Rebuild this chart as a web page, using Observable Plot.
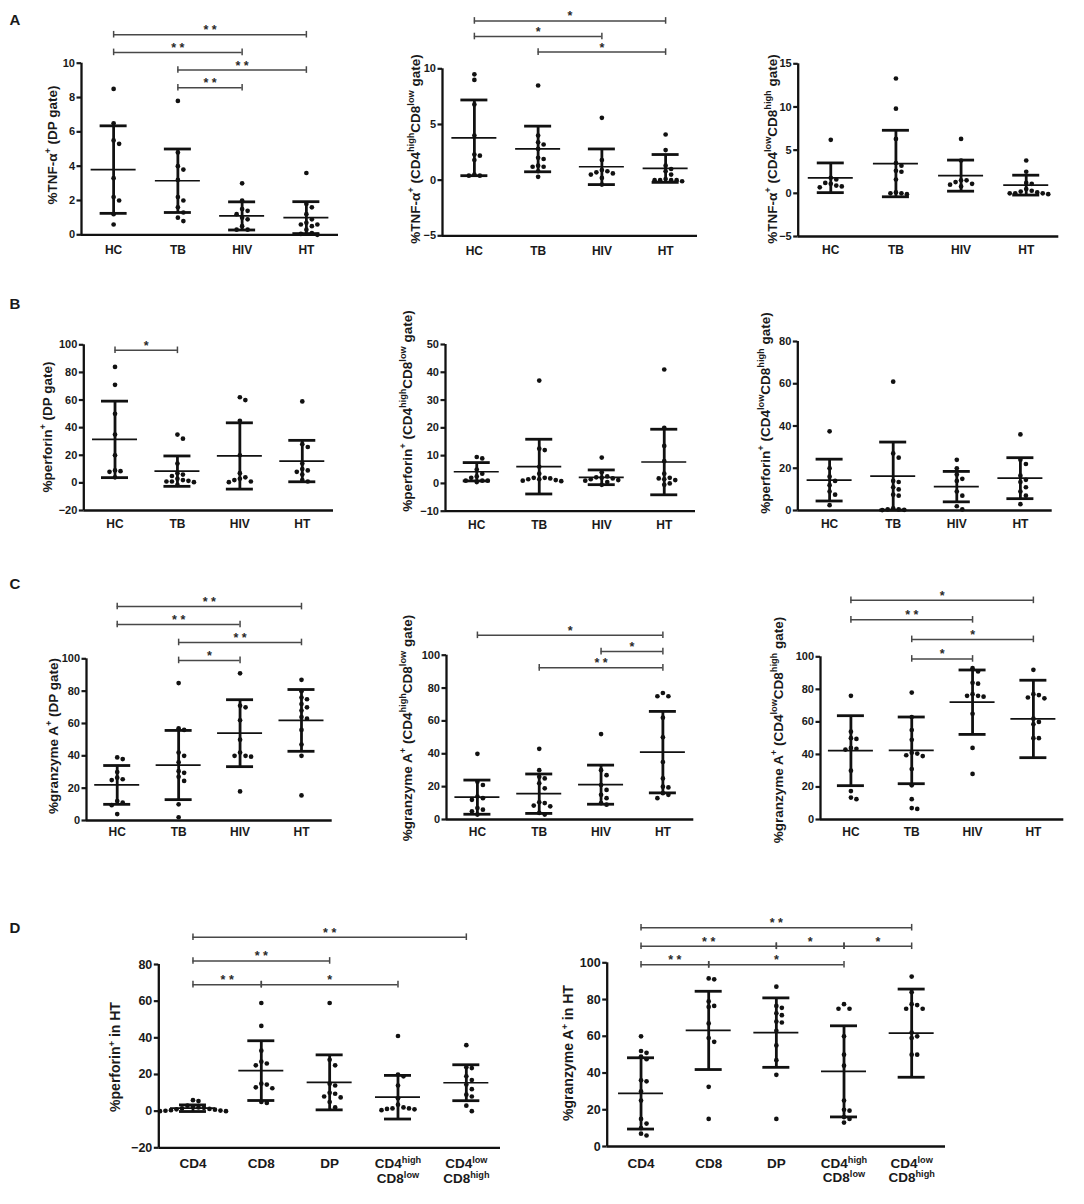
<!DOCTYPE html>
<html>
<head>
<meta charset="utf-8">
<script src="https://cdn.jsdelivr.net/npm/d3@7"></script>
<script src="https://cdn.jsdelivr.net/npm/@observablehq/plot@0.6"></script>
<style>
  html, body { margin: 0; padding: 0; background: #fff; }
  #page { position: relative; width: 1084px; height: 1204px; background: #fff; overflow: hidden;
          font-family: "Liberation Sans", Arial, sans-serif; color: #1a1a1a; }
  .panel { position: absolute; }
  .ytitle { position: absolute; white-space: nowrap; font-weight: bold; transform: translate(-50%, -50%) rotate(-90deg); }
  .ytitle sup { font-size: 0.68em; line-height: 0; vertical-align: 0.55em; }
  .letter { position: absolute; font-weight: bold; font-size: 15px; transform: translate(-50%, -50%); }
</style>
</head>
<body>
<div id="page"></div>
<script>
// ---------------- DATA ----------------
const groupsABC = ["HC", "TB", "HIV", "HT"];
const groupsD = ["CD4", "CD8", "DP", "CD4^high\nCD8^low", "CD4^low\nCD8^high"];

// A: TNF-α
const tnfDP = [
  [8.5, 6.5, 5.5, 5.3, 3.3, 2.2, 2.0, 1.2, 0.6],
  [7.8, 4.8, 4.0, 3.8, 3.2, 2.2, 2.0, 1.6, 1.3, 1.0, 0.8],
  [3.0, 2.0, 1.5, 1.4, 1.2, 1.0, 0.9, 0.5, 0.3, 0.3],
  [3.6, 1.8, 1.6, 1.2, 0.9, 0.7, 0.6, 0.6, 0.5, 0.3, 0.1, 0.05, 0.0]
];
const tnfDPMean = [3.8, 3.15, 1.1, 1.0];
const tnfDPSD = [2.55, 1.85, 0.82, 0.93];

const tnfCD4h = [
  [9.5, 9.0, 6.8, 4.0, 2.3, 2.2, 1.8, 0.5, 0.4, 0.4],
  [8.5, 4.0, 3.4, 3.2, 2.8, 2.0, 1.9, 1.3, 1.2, 1.2, 0.8, 0.3],
  [5.6, 1.8, 0.9, 0.8, 0.7, 0.6, 0.5, 0.2, -0.4],
  [4.1, 2.7, 1.3, 1.0, 0.8, 0.5, 0.1, 0.0, 0.0, 0.0, -0.1, 0.0]
];
const tnfCD4hMean = [3.8, 2.8, 1.2, 1.05];
const tnfCD4hSD = [3.4, 2.05, 1.6, 1.25];

const tnfCD8h = [
  [6.2, 1.8, 1.6, 1.2, 1.1, 0.9, 0.8, 0.7],
  [13.3, 9.8, 6.3, 3.5, 3.2, 2.6, 2.5, 1.6, 0.1, 0.0, 0.0, -0.1],
  [6.3, 3.8, 1.5, 1.5, 1.3, 1.1, 1.0, 0.8],
  [3.8, 2.5, 1.2, 1.1, 0.5, 0.3, 0.2, 0.0, 0.0, 0.0, -0.1, 0.1]
];
const tnfCD8hMean = [1.8, 3.45, 2.05, 0.95];
const tnfCD8hSD = [1.72, 3.85, 1.8, 1.15];

// B: perforin
const perfDP = [
  [84, 71, 50, 35, 20, 9, 8.5, 8, 4],
  [35, 32, 14, 7, 6, 5, 3, 2, 1.5, 1, 1, 0.5, -1.5],
  [62, 60, 45, 20, 7, 4, 3, 2, 1, 0.5],
  [59, 28, 26, 14, 10, 9, 8, 6, 2, 1]
];
const perfDPMean = [31.5, 8.5, 19.5, 15.8];
const perfDPSD = [27.7, 11, 24, 15];

const perfCD4h = [
  [9.5, 9, 5, 3.5, 2.5, 2, 1, 1, 1, 0.5],
  [37, 12.5, 12, 6, 3.5, 2, 2, 1.8, 1.5, 1.5, 1.2, 1, 0.8],
  [9.3, 4, 2.5, 2.2, 2, 1.8, 1.5, 1.2, 1, 0.5, -0.5],
  [41, 20, 13.5, 8, 3.5, 2, 1.8, 1.5, 1.2, 0, -0.5]
];
const perfCD4hMean = [4.2, 6.05, 2.2, 7.7];
const perfCD4hSD = [3.3, 9.85, 2.65, 11.8];

const perfCD8h = [
  [37.5, 20, 16, 14, 12, 9, 7.5, 2.5],
  [61, 27, 25, 14, 13.5, 11, 10, 7.5, 7, 1, 0.5, 0.5, 0.3, 0.2],
  [24, 20, 17, 15, 14, 9, 7, 2, 0.5],
  [36, 24, 22, 16.5, 14.5, 13.5, 11, 9, 7, 3]
];
const perfCD8hMean = [14.4, 16.3, 11.3, 15.3];
const perfCD8hSD = [9.9, 16.1, 7.2, 9.7];

// C: granzyme A
const gzmDP = [
  [39, 38, 30, 26.5, 25.5, 25, 12, 11, 9.5, 4],
  [85, 57, 56, 42, 40, 36, 30.5, 29.5, 27, 24.5, 10, 2],
  [91, 71, 70, 62, 50, 42, 40, 40, 39.5, 18],
  [87, 80, 76, 75, 72, 70, 68, 64, 63, 56, 47, 40, 15.5]
];
const gzmDPMean = [22, 34.3, 54, 61.9];
const gzmDPSD = [12, 21.4, 20.7, 19.1];

const gzmCD4h = [
  [40, 23, 21, 14, 13, 12, 7, 6, 5, 3],
  [43, 30, 26, 25, 22, 19, 10.5, 10, 8.5, 8, 4, 3],
  [52, 30, 27, 21, 18, 15, 13, 10, 9],
  [77, 75, 75, 62, 50, 35, 25, 20, 19.5, 16, 15, 13]
];
const gzmCD4hMean = [13.6, 15.7, 21.2, 41];
const gzmCD4hSD = [10.4, 12, 11.9, 24.8];

const gzmCD8h = [
  [76, 54, 50, 49.5, 44, 43.5, 43, 30, 17.5, 13.5, 12.5],
  [78, 63, 55, 49, 41, 40.5, 39.5, 39, 31, 21, 12.5, 7, 6.5],
  [93, 91, 84, 83.5, 77, 76, 75.5, 76, 65, 44, 28],
  [92, 77, 76.5, 75, 74.5, 62, 60, 58.5, 50, 50]
];
const gzmCD8hMean = [42.3, 42.5, 72.1, 61.8];
const gzmCD8hSD = [21.5, 20.5, 19.8, 23.8];

// D: HT subsets
const perfHT = [
  [6, 5.5, 3, 2.5, 2, 1.8, 1.5, 1.2, 1, 0.8, 0.5, 0.3, 0.2, 0, 0],
  [59, 46.5, 33, 27, 26, 25, 15, 14.5, 13, 12.5, 5, 4.5],
  [59, 28, 25, 15, 14, 10, 9.5, 8, 7.5, 5, 2],
  [41, 20, 19, 14, 7, 3.5, 2, 1.5, 1.5, 1.2, 1, 0.5],
  [36, 24, 23.5, 19, 17, 14.5, 12, 9, 8, 3, 0]
];
const perfHTMean = [1.6, 22.1, 15.7, 7.6, 15.5];
const perfHTSD = [1.8, 16.3, 15, 11.9, 9.8];

const gzmHT = [
  [60, 52, 51, 49, 47.5, 36, 35.5, 30, 25, 15, 12.5, 10, 7, 6],
  [91.5, 91, 79, 76.5, 76, 67, 59, 57, 32.5, 15],
  [87, 76.5, 75.5, 72.5, 71.5, 68, 67.5, 63, 55, 47, 39, 15],
  [77.5, 75, 75, 60, 50, 44, 25, 20, 19.5, 16, 15, 13],
  [92.5, 84, 77.5, 77, 75, 75, 62, 60, 59, 50, 50]
];
const gzmHTMean = [28.9, 63.2, 62, 40.9, 61.7];
const gzmHTSD = [19.4, 21.3, 18.9, 24.8, 24];

// y ticks
const ticksA1 = [0, 2, 4, 6, 8, 10];
const ticksA2 = [-5, 0, 5, 10];
const ticksA3 = [-5, 0, 5, 10, 15];
const ticksB1 = [-20, 0, 20, 40, 60, 80, 100];
const ticksB2 = [-10, 0, 10, 20, 30, 40, 50];
const ticksB3 = [0, 20, 40, 60, 80];
const ticksC = [0, 20, 40, 60, 80, 100];
const ticksD1 = [-20, 0, 20, 40, 60, 80];
const ticksD2 = [0, 20, 40, 60, 80, 100];

// significance comparisons: [from, to, label, bracket row]
const compA1 = [["TB", "HIV", "* *", 0], ["TB", "HT", "* *", 1], ["HC", "HIV", "* *", 2], ["HC", "HT", "* *", 3]];
const compA2 = [["TB", "HT", "*", 0], ["HC", "HIV", "*", 1], ["HC", "HT", "*", 2]];
const compB1 = [["HC", "TB", "*", 0]];
const compC1 = [["TB", "HIV", "*", 0], ["TB", "HT", "* *", 1], ["HC", "HIV", "* *", 2], ["HC", "HT", "* *", 3]];
const compC2 = [["TB", "HT", "* *", 0], ["HIV", "HT", "*", 1], ["HC", "HT", "*", 2]];
const compC3 = [["TB", "HIV", "*", 0], ["TB", "HT", "*", 1], ["HC", "HIV", "* *", 2], ["HC", "HT", "*", 3]];
const compD1 = [["CD4", "CD8", "* *", 0], ["CD8", groupsD[3], "*", 0], ["CD4", "DP", "* *", 1], ["CD4", groupsD[4], "* *", 2]];
const compD2 = [["CD4", "CD8", "* *", 0], ["CD8", groupsD[3], "*", 0],
                ["CD4", "DP", "* *", 1], ["DP", groupsD[3], "*", 1], [groupsD[3], groupsD[4], "*", 1],
                ["CD4", groupsD[4], "* *", 2]];

const SUB_HL = "CD4<sup>high</sup>CD8<sup>low</sup>";
const SUB_LH = "CD4<sup>low</sup>CD8<sup>high</sup>";

// ---------------- PANELS ----------------
const panels = [
  {groups: groupsABC, values: tnfDP, mean: tnfDPMean, sd: tnfDPSD, domain: [0, 10], ticks: ticksA1, comps: compA1,
   title: "%TNF-α<sup>+</sup> (DP gate)"},
  {groups: groupsABC, values: tnfCD4h, mean: tnfCD4hMean, sd: tnfCD4hSD, domain: [-5, 10], ticks: ticksA2, comps: compA2,
   title: "%TNF-α<sup>+</sup> (" + SUB_HL + " gate)"},
  {groups: groupsABC, values: tnfCD8h, mean: tnfCD8hMean, sd: tnfCD8hSD, domain: [-5, 15], ticks: ticksA3, comps: [],
   title: "%TNF-α<sup>+</sup> (" + SUB_LH + " gate)"},
  {groups: groupsABC, values: perfDP, mean: perfDPMean, sd: perfDPSD, domain: [-20, 100], ticks: ticksB1, comps: compB1,
   title: "%perforin<sup>+</sup> (DP gate)"},
  {groups: groupsABC, values: perfCD4h, mean: perfCD4hMean, sd: perfCD4hSD, domain: [-10, 50], ticks: ticksB2, comps: [],
   title: "%perforin<sup>+</sup> (" + SUB_HL + " gate)"},
  {groups: groupsABC, values: perfCD8h, mean: perfCD8hMean, sd: perfCD8hSD, domain: [0, 80], ticks: ticksB3, comps: [],
   title: "%perforin<sup>+</sup> (" + SUB_LH + " gate)"},
  {groups: groupsABC, values: gzmDP, mean: gzmDPMean, sd: gzmDPSD, domain: [0, 100], ticks: ticksC, comps: compC1,
   title: "%granzyme A<sup>+</sup> (DP gate)"},
  {groups: groupsABC, values: gzmCD4h, mean: gzmCD4hMean, sd: gzmCD4hSD, domain: [0, 100], ticks: ticksC, comps: compC2,
   title: "%granzyme A<sup>+</sup> (" + SUB_HL + " gate)"},
  {groups: groupsABC, values: gzmCD8h, mean: gzmCD8hMean, sd: gzmCD8hSD, domain: [0, 100], ticks: ticksC, comps: compC3,
   title: "%granzyme A<sup>+</sup> (" + SUB_LH + " gate)"},
  {groups: groupsD, values: perfHT, mean: perfHTMean, sd: perfHTSD, domain: [-20, 80], ticks: ticksD1, comps: compD1,
   title: "%perforin<sup>+</sup> in HT"},
  {groups: groupsD, values: gzmHT, mean: gzmHTMean, sd: gzmHTSD, domain: [0, 100], ticks: ticksD2, comps: compD2,
   title: "%granzyme A<sup>+</sup> in HT"}
];

// ---------------- LAYOUT (pixels) ----------------
const layout = [
  {left: 0,   top: 0,   w: 360, h: 262, x0: 81,    x1: 338,    yTop: 62.7,  yBot: 234.3,  base: 8.57, step: 1.03, tx: 52,    ty: 145,  xpad: 9.5,  tf: 11, xf: 12, ttf: 13.5},
  {left: 360, top: 0,   w: 360, h: 262, x0: 442,   x1: 697,    yTop: 68.3,  yBot: 235.3,  base: 11.5, step: 1.4,  tx: 415,   ty: 149,  xpad: 9.5,  tf: 11, xf: 12, ttf: 13.5},
  {left: 720, top: 0,   w: 364, h: 262, x0: 797.7, x1: 1058.3, yTop: 63.3,  yBot: 236,    base: 0,    step: 0,    tx: 771.7, ty: 149,  xpad: 8.5,  tf: 11, xf: 12, ttf: 13.5},
  {left: 0,   top: 262, w: 360, h: 278, x0: 83.3,  x1: 333,    yTop: 344.3, yBot: 510,    base: 96,   step: 0,    tx: 46.7,  ty: 427,  xpad: 8,    tf: 11, xf: 12, ttf: 13.5},
  {left: 360, top: 262, w: 360, h: 278, x0: 445,   x1: 695,    yTop: 344,   yBot: 510.7,  base: 0,    step: 0,    tx: 406.7, ty: 411,  xpad: 8,    tf: 11, xf: 12, ttf: 13.5},
  {left: 720, top: 262, w: 364, h: 278, x0: 797.3, x1: 1051.7, yTop: 341,   yBot: 510,    base: 0,    step: 0,    tx: 765,   ty: 413,  xpad: 8,    tf: 11, xf: 12, ttf: 13.5},
  {left: 0,   top: 540, w: 360, h: 320, x0: 86,    x1: 331.7,  yTop: 658.3, yBot: 820,    base: 99,   step: 11.1, tx: 52.7,  ty: 736,  xpad: 6.5,  tf: 11, xf: 12, ttf: 13.5},
  {left: 360, top: 540, w: 360, h: 320, x0: 446,   x1: 693.3,  yTop: 654.7, yBot: 819,    base: 92.3, step: 9.9,  tx: 406.7, ty: 728,  xpad: 7,    tf: 11, xf: 12, ttf: 13.5},
  {left: 720, top: 540, w: 364, h: 320, x0: 820,   x1: 1063.3, yTop: 656.3, yBot: 819,    base: 98.7, step: 12,   tx: 778.3, ty: 730,  xpad: 7.5,  tf: 11, xf: 12, ttf: 13.5},
  {left: 0,   top: 860, w: 540, h: 344, x0: 158.3, x1: 500,    yTop: 964,   yBot: 1147.3, base: 69,   step: 12.95,tx: 115,   ty: 1057, xpad: 10,   tf: 12.5, xf: 13.5, ttf: 14},
  {left: 540, top: 860, w: 544, h: 344, x0: 606.7, x1: 945,    yTop: 962.3, yBot: 1146,   base: 98.9, step: 10.1, tx: 568.3, ty: 1053, xpad: 10.5, tf: 12.5, xf: 13.5, ttf: 14}
];
const letters = [["A", 15, 19], ["B", 15, 303], ["C", 15, 583], ["D", 15, 927]];

// deterministic beeswarm offsets (pixels -> category units)
function swarm(values, ppu, stepPx, r) {
  const d = 2 * r + 0.8;
  const placed = [];
  const off = new Array(values.length);
  const order = values.map((v, i) => i).sort((a, b) => values[b] - values[a]);
  for (const i of order) {
    const py = values[i] * ppu;
    let ox = 0;
    for (let t = 0; t < 60; t++) {
      ox = t === 0 ? 0 : (t % 2 ? 1 : -1) * Math.ceil(t / 2) * d;
      if (placed.every(p => Math.hypot(p.x - ox, p.y - py) >= d)) break;
    }
    placed.push({x: ox, y: py});
    off[i] = ox / stepPx;
  }
  return off;
}

const SVGNS = "http://www.w3.org/2000/svg";
function supify(node) {
  const kids = Array.from(node.childNodes).filter(n => n.nodeType === 1);
  if (kids.length) { kids.forEach(supify); return; }
  const s = node.textContent;
  if (!s.includes("^")) return;
  node.textContent = "";
  for (const p of s.split(/(\^[a-z]+)/)) {
    if (!p) continue;
    const t = document.createElementNS(SVGNS, "tspan");
    if (p[0] === "^") {
      t.textContent = p.slice(1);
      t.setAttribute("baseline-shift", "super");
      t.setAttribute("font-size", "0.68em");
    } else t.textContent = p;
    node.appendChild(t);
  }
}

const page = document.getElementById("page");

panels.forEach((P, k) => {
  const L = layout[k];
  const n = P.groups.length;
  const [ymin, ymax] = P.domain;
  const ppu = (L.yBot - L.yTop) / (ymax - ymin);
  const stepPx = (L.x1 - L.x0) / n;
  const R = 2.35;

  const pts = [];
  P.values.forEach((arr, gi) => {
    const off = swarm(arr, ppu, stepPx, R);
    arr.forEach((v, j) => pts.push({x: gi + off[j], v}));
  });
  const stats = P.groups.map((g, gi) => ({gi, m: P.mean[gi], lo: P.mean[gi] - P.sd[gi], hi: P.mean[gi] + P.sd[gi]}));
  const wM = 22.5 / stepPx, wC = 13.5 / stepPx, e = 3.3 / ppu;
  const br = P.comps.map(([a, b, lab, row]) => ({a: P.groups.indexOf(a), b: P.groups.indexOf(b), lab, y: L.base + row * L.step}));
  const ends = br.flatMap(d => [{x: d.a, y: d.y}, {x: d.b, y: d.y}]);

  const chart = Plot.plot({
    width: L.w, height: L.h,
    marginLeft: L.x0 - L.left, marginRight: L.left + L.w - L.x1,
    marginTop: L.yTop - L.top, marginBottom: L.top + L.h - L.yBot,
    x: {type: "linear", domain: [-0.5, n - 0.5]},
    y: {type: "linear", domain: [ymin, ymax]},
    style: {background: "transparent", fontFamily: "'Liberation Sans', Arial, sans-serif", fontWeight: "bold", color: "#1a1a1a", overflow: "visible"},
    marks: [
      Plot.axisY({ticks: P.ticks, tickSize: 4.5, tickPadding: 2, strokeWidth: 2.2, fontSize: L.tf, fontWeight: "bold", label: null}),
      Plot.axisX({ticks: d3.range(n), tickFormat: i => P.groups[i], tickSize: 0, tickPadding: L.xpad,
                  fontSize: L.xf, fontWeight: "bold", lineHeight: 1.1, label: null}),
      Plot.ruleY(br, {x1: "a", x2: "b", y: "y", stroke: "#484848", strokeWidth: 1.5}),
      Plot.ruleX(ends, {x: "x", y1: d => d.y - e, y2: d => d.y + e, stroke: "#484848", strokeWidth: 1.5}),
      Plot.text(br, {x: d => (d.a + d.b) / 2, y: "y", text: "lab", dy: -4.5, fontSize: 12.5, fill: "#2a2a2a", fontWeight: "bold"}),
      Plot.dot(pts, {x: "x", y: "v", r: R, fill: "#111", stroke: "none"}),
      Plot.ruleX(stats, {x: "gi", y1: "lo", y2: "hi", stroke: "#111", strokeWidth: 2.8}),
      Plot.ruleY(stats, {y: "hi", x1: d => d.gi - wC, x2: d => d.gi + wC, stroke: "#111", strokeWidth: 2.8}),
      Plot.ruleY(stats, {y: "lo", x1: d => d.gi - wC, x2: d => d.gi + wC, stroke: "#111", strokeWidth: 2.8}),
      Plot.ruleY(stats, {y: "m", x1: d => d.gi - wM, x2: d => d.gi + wM, stroke: "#111", strokeWidth: 1.7}),
      Plot.ruleX([-0.5], {y1: ymin, y2: ymax, stroke: "#111", strokeWidth: 2.3}),
      Plot.ruleY([ymin], {x1: -0.5, x2: n - 0.5, stroke: "#111", strokeWidth: 2.3})
    ]
  });
  chart.querySelectorAll('g[aria-label="x-axis tick label"] text').forEach(supify);

  const holder = document.createElement("div");
  holder.className = "panel";
  holder.style.left = L.left + "px";
  holder.style.top = L.top + "px";
  holder.appendChild(chart);
  page.appendChild(holder);

  const t = document.createElement("div");
  t.className = "ytitle";
  t.style.left = L.tx + "px";
  t.style.top = L.ty + "px";
  t.style.fontSize = L.ttf + "px";
  t.innerHTML = P.title;
  page.appendChild(t);
});

letters.forEach(([s, x, y]) => {
  const d = document.createElement("div");
  d.className = "letter";
  d.style.left = x + "px";
  d.style.top = y + "px";
  d.textContent = s;
  page.appendChild(d);
});
</script>
</body>
</html>
